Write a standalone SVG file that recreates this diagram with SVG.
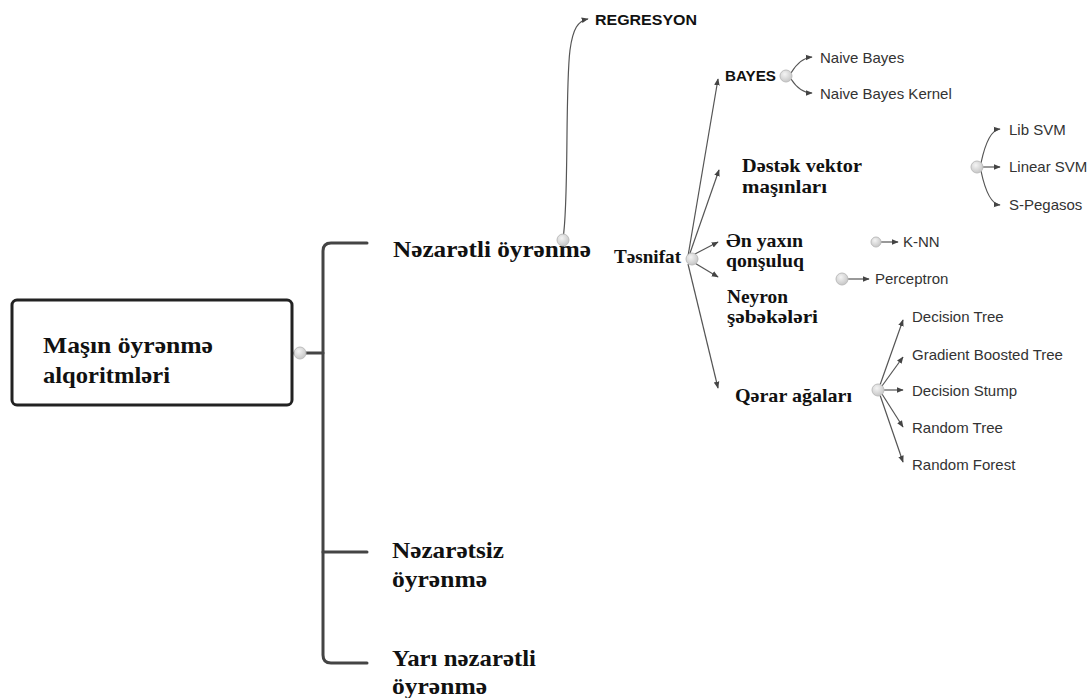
<svg xmlns="http://www.w3.org/2000/svg" width="1092" height="698" viewBox="0 0 1092 698">
<defs>
<marker id="ah" viewBox="0 0 10 10" refX="9" refY="5" markerWidth="7" markerHeight="7" markerUnits="userSpaceOnUse" orient="auto">
<path d="M0,1 L10,5 L0,9 Z" fill="#444"/>
</marker>
<radialGradient id="knob" cx="0.4" cy="0.35" r="0.7">
<stop offset="0" stop-color="#f4f4f4"/>
<stop offset="1" stop-color="#c4c4c4"/>
</radialGradient>
</defs>
<style>
.ser{font-family:"Liberation Serif","DejaVu Serif",serif;font-weight:bold;fill:#111}
.big{font-size:24px}
.mid{font-size:19px}
.sb{font-family:"Liberation Sans","DejaVu Sans",sans-serif;font-weight:bold;font-size:15px;fill:#111}
.leaf{font-family:"Liberation Sans","DejaVu Sans",sans-serif;font-size:15px;fill:#333}
.br{fill:none;stroke:#444;stroke-width:3;stroke-linecap:round}
.ar{fill:none;stroke:#555;stroke-width:1.2;marker-end:url(#ah)}
.knob{fill:url(#knob);stroke:#bdbdbd;stroke-width:1}
</style>
<rect width="1092" height="698" fill="#fff"/>

<g id="connectors">
<path class="br" d="M294,353 H323"/>
<path class="br" d="M367,243 H331 Q323,243 323,251 V655 Q323,663 331,663 H367"/>
<path class="br" d="M323,552 H367"/>
<path class="ar" d="M563,238 C569,205 565,90 570,50 C573,28 578,21 588,19"/>
<path class="ar" d="M688,256 L718,79"/>
<path class="ar" d="M689,256 L719,170"/>
<path class="ar" d="M693,255 L718,242"/>
<path class="ar" d="M693,262 L718,277"/>
<path class="ar" d="M688,264 L718,388"/>
<path class="ar" d="M791,73 Q800,58 812,57"/>
<path class="ar" d="M791,79 Q800,93 812,93"/>
<path class="ar" d="M981,163 Q988,130 1000,129"/>
<path class="ar" d="M982,167 L1000,167"/>
<path class="ar" d="M981,171 Q988,204 1000,205"/>
<path class="ar" d="M881,242 L898,242"/>
<path class="ar" d="M847,279 L869,279"/>
<path class="ar" d="M880,385 L903,320"/>
<path class="ar" d="M882,386 L903,357"/>
<path class="ar" d="M884,390 L903,390"/>
<path class="ar" d="M882,394 L903,427"/>
<path class="ar" d="M880,395 L903,462"/>
</g>

<g id="root">
<rect x="12" y="300" width="280" height="105" rx="5" fill="#fff" stroke="#222" stroke-width="3"/>
<text class="ser big" x="43" y="353" textLength="170" lengthAdjust="spacingAndGlyphs">Maşın öyrənmə</text>
<text class="ser big" x="43" y="383" textLength="127" lengthAdjust="spacingAndGlyphs">alqoritmləri</text>
<circle class="knob" cx="300" cy="353" r="6"/>
</g>

<g id="nezaretli">
<text class="ser big" x="393" y="257" textLength="198" lengthAdjust="spacingAndGlyphs">Nəzarətli öyrənmə</text>
<circle class="knob" cx="563" cy="240" r="6"/>
</g>

<g id="nezaretsiz">
<text class="ser big" x="392" y="558" textLength="112" lengthAdjust="spacingAndGlyphs">Nəzarətsiz</text>
<text class="ser big" x="392" y="587" textLength="95" lengthAdjust="spacingAndGlyphs">öyrənmə</text>
</g>

<g id="yari">
<text class="ser big" x="392" y="666" textLength="144" lengthAdjust="spacingAndGlyphs">Yarı nəzarətli</text>
<text class="ser big" x="392" y="694" textLength="95" lengthAdjust="spacingAndGlyphs">öyrənmə</text>
</g>

<g id="regresyon">
<text class="sb" x="595" y="25" textLength="102" lengthAdjust="spacingAndGlyphs">REGRESYON</text>
</g>

<g id="tesnifat">
<text class="ser mid" x="614" y="263" textLength="67" lengthAdjust="spacingAndGlyphs">Təsnifat</text>
<circle class="knob" cx="692" cy="259" r="6"/>
</g>

<g id="bayes">
<text class="sb" x="725" y="81" textLength="51" lengthAdjust="spacingAndGlyphs">BAYES</text>
<circle class="knob" cx="786" cy="76" r="6"/>
</g>
<g id="naive-bayes"><text class="leaf" x="820" y="63">Naive Bayes</text></g>
<g id="naive-bayes-kernel"><text class="leaf" x="820" y="99">Naive Bayes Kernel</text></g>

<g id="destek">
<text class="ser mid" x="742" y="172" textLength="120" lengthAdjust="spacingAndGlyphs">Dəstək vektor</text>
<text class="ser mid" x="742" y="193" textLength="85" lengthAdjust="spacingAndGlyphs">maşınları</text>
</g>
<g id="svm-hub"><circle class="knob" cx="977" cy="167" r="6"/></g>
<g id="lib-svm"><text class="leaf" x="1009" y="135">Lib SVM</text></g>
<g id="linear-svm"><text class="leaf" x="1009" y="172">Linear SVM</text></g>
<g id="s-pegasos"><text class="leaf" x="1009" y="210">S-Pegasos</text></g>

<g id="en-yaxin">
<text class="ser mid" x="726" y="247" textLength="77" lengthAdjust="spacingAndGlyphs">Ən yaxın</text>
<text class="ser mid" x="726" y="267" textLength="78" lengthAdjust="spacingAndGlyphs">qonşuluq</text>
</g>
<g id="knn-hub"><circle class="knob" cx="876" cy="242" r="5"/></g>
<g id="knn"><text class="leaf" x="903" y="247">K-NN</text></g>

<g id="neyron">
<text class="ser mid" x="727" y="303" textLength="61" lengthAdjust="spacingAndGlyphs">Neyron</text>
<text class="ser mid" x="727" y="323" textLength="91" lengthAdjust="spacingAndGlyphs">şəbəkələri</text>
</g>
<g id="perceptron-hub"><circle class="knob" cx="842" cy="279" r="6"/></g>
<g id="perceptron"><text class="leaf" x="875" y="284">Perceptron</text></g>

<g id="qerar">
<text class="ser mid" x="735" y="402" textLength="117" lengthAdjust="spacingAndGlyphs">Qərar ağaları</text>
<circle class="knob" cx="878" cy="390" r="6"/>
</g>
<g id="decision-tree"><text class="leaf" x="912" y="322">Decision Tree</text></g>
<g id="gradient-boosted-tree"><text class="leaf" x="912" y="360">Gradient Boosted Tree</text></g>
<g id="decision-stump"><text class="leaf" x="912" y="396">Decision Stump</text></g>
<g id="random-tree"><text class="leaf" x="912" y="433">Random Tree</text></g>
<g id="random-forest"><text class="leaf" x="912" y="470">Random Forest</text></g>
</svg>
